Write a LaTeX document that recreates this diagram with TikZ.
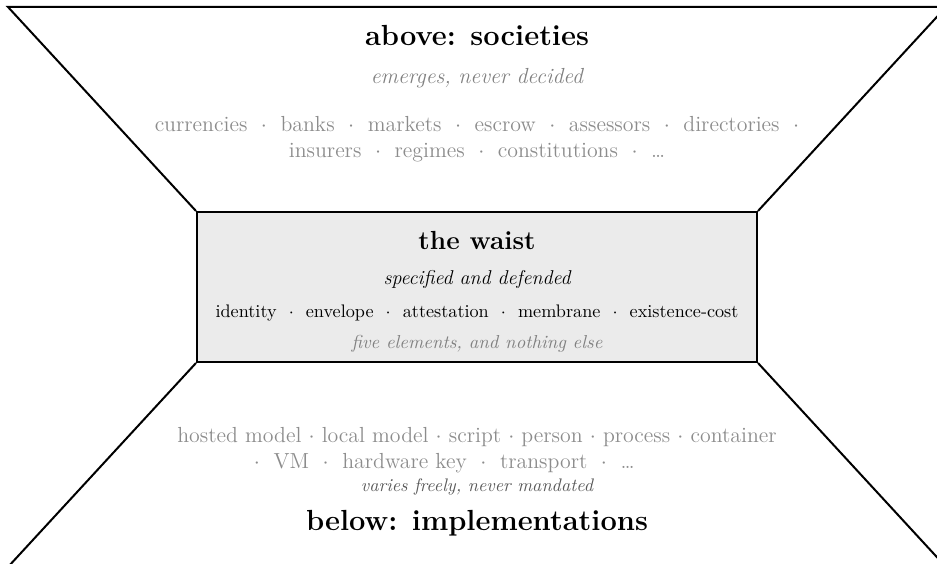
\documentclass[tikz,border=0pt]{standalone}
\usepackage{fontspec}
\newcommand{\sep}{\hspace{0.62em}$\cdot$\hspace{0.62em}}
\begin{document}
\begin{tikzpicture}[x=0.55pt,y=-0.55pt,
	frame/.style={line width=1.1pt},
	waistbox/.style={draw,line width=1.1pt,fill=black!8,minimum width=308pt,minimum height=82.5pt,inner sep=0pt},
	heading/.style={font=\fontsize{16}{19}\selectfont\bfseries},
	subhead/.style={font=\Large\bfseries},
	motto/.style={font=\large\itshape,text=black!50},
	items/.style={align=center,font=\large,text=black!45}]
	\useasboundingbox (0,0) rectangle (937,564);

	% the waist in the middle
	\node[waistbox] (waist) at (477,287) {};

	% the two funnels
	\coordinate (tl) at (8,7);
	\coordinate (tr) at (946,7);
	\coordinate (bl) at (8,567);
	\coordinate (br) at (946,567);
	\draw[frame] (waist.north west) -- (tl) -- (tr) -- (waist.north east);
	\draw[frame] (waist.south west) -- (bl);
	\draw[frame] (waist.south east) -- (br);

	% above
	\node[heading] (above) at (477,35) {above: societies};
	\node[motto] (emerges) at (477,78) {emerges, never decided};
	\node[items] (societies) at (477,139) {currencies\sep banks\sep markets\sep escrow\sep assessors\sep directories\hspace{0.62em}$\cdot$\\
		insurers\sep regimes\sep constitutions\sep …};

	% the waist
	\node[subhead] (title) at (477,240) {the waist};
	\node[font=\fontsize{11}{13}\selectfont\itshape] (specified) at (477,280) {specified and defended};
	\node (elements) at (477,313) {identity \ $\cdot$\ \ envelope \ $\cdot$\ \ attestation \ $\cdot$\ \ membrane \ $\cdot$\ \ existence-cost};
	\node[motto,font=\fontsize{10.3}{12}\selectfont\itshape] (nothing) at (477,344) {five elements, and nothing else};

	% below
	\node[items] (impls) at (477,450) {hosted model $\cdot$ local model $\cdot$ script $\cdot$ person $\cdot$ process $\cdot$ container\\
		$\cdot$\hspace{0.62em}VM\sep hardware key\sep transport\sep …\hspace*{36pt}};
	\node[font=\itshape,text=black!65] (varies) at (477,487) {varies freely, never mandated};
	\node[heading] (below) at (477,523) {below: implementations};
\end{tikzpicture}
\end{document}
